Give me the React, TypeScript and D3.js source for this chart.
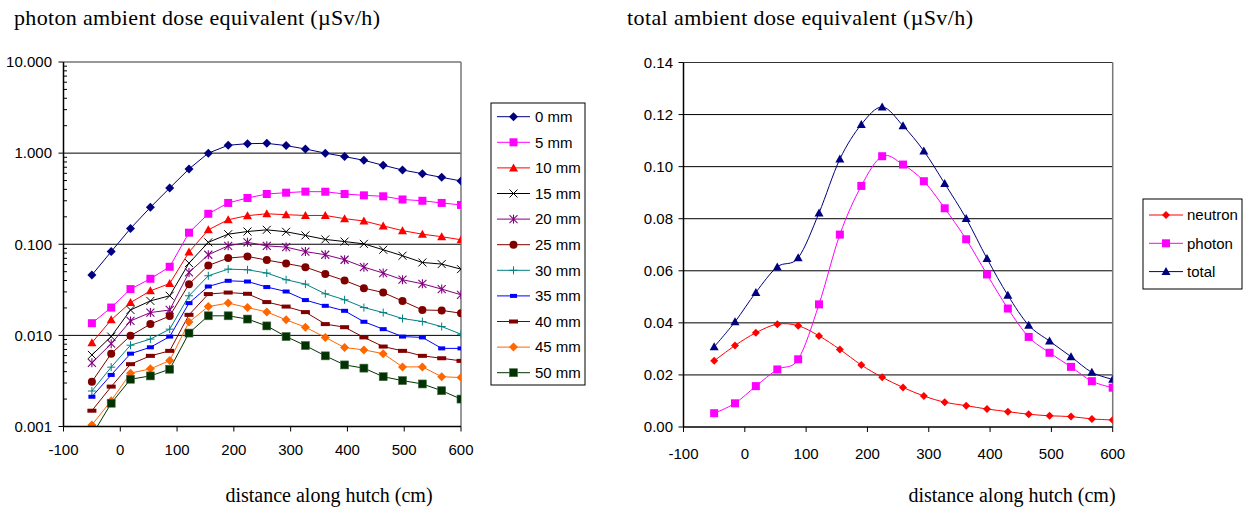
import React from "react";
import * as d3 from "d3";

const distances = [-50, -16, 18, 53, 87, 121, 155, 190, 224, 258, 292, 326, 361, 395, 429, 463, 497, 532, 566, 600];

const mm0 = [0.046, 0.083, 0.149, 0.254, 0.414, 0.67, 1.0, 1.22, 1.27, 1.28, 1.21, 1.11, 1.0, 0.916, 0.834, 0.735, 0.653, 0.595, 0.542, 0.495];
const mm5 = [0.0136, 0.0202, 0.0322, 0.0418, 0.0566, 0.134, 0.216, 0.284, 0.322, 0.356, 0.368, 0.378, 0.377, 0.356, 0.344, 0.336, 0.31, 0.3, 0.284, 0.27];
const mm10 = [0.0083, 0.0148, 0.0229, 0.0308, 0.0371, 0.082, 0.144, 0.186, 0.206, 0.216, 0.211, 0.207, 0.207, 0.191, 0.18, 0.159, 0.141, 0.129, 0.121, 0.112];
const mm15 = [0.0061, 0.0097, 0.019, 0.0239, 0.0272, 0.0621, 0.105, 0.129, 0.138, 0.144, 0.137, 0.125, 0.113, 0.107, 0.101, 0.087, 0.0748, 0.0631, 0.0606, 0.0533];
const mm20 = [0.005, 0.0081, 0.0144, 0.0178, 0.019, 0.049, 0.0767, 0.096, 0.105, 0.096, 0.093, 0.083, 0.0767, 0.0676, 0.0561, 0.0483, 0.0408, 0.0368, 0.0322, 0.0279];
const mm25 = [0.0031, 0.0063, 0.0099, 0.0133, 0.0163, 0.0365, 0.0585, 0.0705, 0.0735, 0.067, 0.0615, 0.0561, 0.0471, 0.04, 0.033, 0.0295, 0.0238, 0.019, 0.0188, 0.0175];
const mm30 = [0.00245, 0.00448, 0.0078, 0.0091, 0.0117, 0.0272, 0.0451, 0.0533, 0.0525, 0.0483, 0.0408, 0.0365, 0.0286, 0.0246, 0.0202, 0.0178, 0.0153, 0.0142, 0.0125, 0.0103];
const mm35 = [0.00212, 0.00368, 0.0063, 0.0074, 0.0097, 0.0226, 0.0344, 0.0397, 0.039, 0.0339, 0.0303, 0.0244, 0.0211, 0.0186, 0.0141, 0.0117, 0.0097, 0.0095, 0.0072, 0.0072];
const mm40 = [0.00149, 0.00274, 0.00483, 0.00596, 0.00676, 0.0168, 0.0284, 0.0295, 0.0286, 0.0232, 0.0207, 0.018, 0.0133, 0.0123, 0.0095, 0.00754, 0.00676, 0.00596, 0.00561, 0.00525];
const mm45 = [0.00104, 0.00192, 0.00385, 0.00429, 0.00529, 0.014, 0.0207, 0.0226, 0.0202, 0.0181, 0.0148, 0.0123, 0.0095, 0.00735, 0.00693, 0.0063, 0.00451, 0.00451, 0.00352, 0.00344];
const mm50 = [0.0008, 0.0018, 0.0033, 0.00359, 0.00425, 0.0106, 0.0164, 0.0164, 0.0151, 0.0127, 0.0097, 0.00773, 0.00596, 0.00474, 0.00437, 0.00352, 0.00319, 0.00293, 0.00247, 0.002];

const neutron = [0.0254, 0.0313, 0.0362, 0.0395, 0.0389, 0.035, 0.0298, 0.0238, 0.0191, 0.0152, 0.0119, 0.0095, 0.0082, 0.0069, 0.0059, 0.0049, 0.0043, 0.004, 0.0031, 0.0027];
const photon = [0.0053, 0.0091, 0.0157, 0.0221, 0.026, 0.0471, 0.0739, 0.0926, 0.104, 0.1008, 0.0944, 0.084, 0.0721, 0.0586, 0.0455, 0.0346, 0.0285, 0.0231, 0.0176, 0.0151];
const total = [0.0308, 0.0404, 0.0517, 0.0615, 0.065, 0.0822, 0.1029, 0.1162, 0.1229, 0.1157, 0.106, 0.0935, 0.0801, 0.0647, 0.0506, 0.0391, 0.033, 0.027, 0.021, 0.0183];

const xTicks = [-100, 0, 100, 200, 300, 400, 500, 600];
const leftYTicks = [0.001, 0.01, 0.1, 1, 10];
const leftYLabels = ["0.001", "0.010", "0.100", "1.000", "10.000"];
const rightYTicks = [0, 0.02, 0.04, 0.06, 0.08, 0.1, 0.12, 0.14];
const rightYLabels = ["0.00", "0.02", "0.04", "0.06", "0.08", "0.10", "0.12", "0.14"];

const leftSeries = [
  { name: "0 mm", values: mm0, color: "#000080", marker: "diamond" },
  { name: "5 mm", values: mm5, color: "#FF00FF", marker: "square" },
  { name: "10 mm", values: mm10, color: "#FF0000", marker: "triangle" },
  { name: "15 mm", values: mm15, color: "#000000", marker: "x" },
  { name: "20 mm", values: mm20, color: "#800080", marker: "asterisk" },
  { name: "25 mm", values: mm25, color: "#800000", marker: "circle" },
  { name: "30 mm", values: mm30, color: "#008080", marker: "plus" },
  { name: "35 mm", values: mm35, color: "#0000FF", marker: "smallrect" },
  { name: "40 mm", values: mm40, color: "#800000", marker: "dash" },
  { name: "45 mm", values: mm45, color: "#FF6600", marker: "diamond" },
  { name: "50 mm", values: mm50, color: "#003300", marker: "bigsquare" },
];

const rightSeries = [
  { name: "neutron", values: neutron, color: "#FF0000", marker: "diamondSmall" },
  { name: "photon", values: photon, color: "#FF00FF", marker: "square" },
  { name: "total", values: total, color: "#000080", marker: "triangle" },
];

const SANS = "Arial, 'Liberation Sans', sans-serif";
const SERIF = "'Times New Roman', 'Liberation Serif', serif";

function Marker({ type, color, x, y }: { type: string; color: string; x: number; y: number }) {
  switch (type) {
    case "diamond":
      return <polygon points={`${x},${y - 4.5} ${x + 4.5},${y} ${x},${y + 4.5} ${x - 4.5},${y}`} fill={color} />;
    case "diamondSmall":
      return <polygon points={`${x},${y - 4} ${x + 4},${y} ${x},${y + 4} ${x - 4},${y}`} fill={color} />;
    case "square":
      return <rect x={x - 4} y={y - 4} width={8} height={8} fill={color} />;
    case "bigsquare":
      return <rect x={x - 4} y={y - 4} width={8} height={8} fill={color} stroke="#4a6a4a" strokeWidth={0.6} />;
    case "triangle":
      return <polygon points={`${x},${y - 4.5} ${x + 4.5},${y + 3.5} ${x - 4.5},${y + 3.5}`} fill={color} />;
    case "x":
      return (
        <g stroke={color} strokeWidth={1}>
          <line x1={x - 4} y1={y - 4} x2={x + 4} y2={y + 4} />
          <line x1={x - 4} y1={y + 4} x2={x + 4} y2={y - 4} />
        </g>
      );
    case "asterisk":
      return (
        <g stroke={color} strokeWidth={1.1}>
          <line x1={x - 4} y1={y - 4} x2={x + 4} y2={y + 4} />
          <line x1={x - 4} y1={y + 4} x2={x + 4} y2={y - 4} />
          <line x1={x} y1={y - 4.5} x2={x} y2={y + 4.5} />
        </g>
      );
    case "circle":
      return <circle cx={x} cy={y} r={4} fill={color} />;
    case "plus":
      return (
        <g stroke={color} strokeWidth={1}>
          <line x1={x - 4} y1={y} x2={x + 4} y2={y} />
          <line x1={x} y1={y - 4} x2={x} y2={y + 4} />
        </g>
      );
    case "smallrect":
      return <rect x={x - 3.5} y={y - 2} width={7} height={4} fill={color} />;
    case "dash":
      return <rect x={x - 4.5} y={y - 2} width={9} height={4} fill={color} />;
    default:
      return null;
  }
}

export default function App() {
  const lx = d3.scaleLinear().domain([-100, 600]).range([63.5, 461]);
  const ly = d3.scaleLog().domain([0.001, 10]).range([426.5, 62]);
  const rx = d3.scaleLinear().domain([-100, 600]).range([683.5, 1112.7]);
  const ry = d3.scaleLinear().domain([0, 0.14]).range([427, 62.5]);

  const leftLine = d3
    .line<number>()
    .x((_, i) => lx(distances[i]))
    .y((d) => ly(d));
  const rightLine = d3
    .line<number>()
    .x((_, i) => rx(distances[i]))
    .y((d) => ry(d))
    .curve(d3.curveCatmullRom.alpha(0));

  const minorTicks: number[] = [];
  [0.001, 0.01, 0.1, 1].forEach((dec) => {
    for (let k = 2; k <= 9; k++) minorTicks.push(dec * k);
  });

  const [lx0, lx1] = lx.range();
  const [ly0, ly1] = ly.range();
  const [rx0, rx1] = rx.range();
  const [ry0, ry1] = ry.range();

  return (
    <svg width={1246} height={512} style={{ position: "absolute", left: 0, top: 0, background: "#fff" }}>
      <defs>
        <clipPath id="clipL">
          <rect x={lx0} y={ly1} width={lx1 - lx0} height={ly0 - ly1} />
        </clipPath>
        <clipPath id="clipR">
          <rect x={rx0} y={ry1} width={rx1 - rx0} height={ry0 - ry1} />
        </clipPath>
      </defs>
      <rect x={0} y={0} width={1246} height={512} fill="#fff" />

      <text x={14} y={25} fontFamily={SERIF} fontSize={22} textLength={366} lengthAdjust="spacing">
        photon ambient dose equivalent (µSv/h)
      </text>
      <text x={627} y={25} fontFamily={SERIF} fontSize={22} textLength={346} lengthAdjust="spacing">
        total ambient dose equivalent (µSv/h)
      </text>
      <text x={329} y={502} textAnchor="middle" fontFamily={SERIF} fontSize={20}>
        distance along hutch (cm)
      </text>
      <text x={1012} y={502} textAnchor="middle" fontFamily={SERIF} fontSize={20}>
        distance along hutch (cm)
      </text>

      {/* LEFT CHART */}
      <g>
        {[0.01, 0.1, 1].map((t) => (
          <line key={t} x1={lx0} x2={lx1} y1={ly(t)} y2={ly(t)} stroke="#000" strokeWidth={1} />
        ))}
        <line x1={lx0} x2={lx1} y1={ly1} y2={ly1} stroke="#333" strokeWidth={1.2} />
        <line x1={lx1} x2={lx1} y1={ly1} y2={ly0} stroke="#777" strokeWidth={1.5} />
        <g clipPath="url(#clipL)">
          {leftSeries.map((s) => (
            <path key={s.name} d={leftLine(s.values) || ""} fill="none" stroke={s.color} strokeWidth={1} />
          ))}
          {leftSeries.map((s) =>
            s.values.map((v, i) => (
              <Marker key={s.name + i} type={s.marker} color={s.color} x={lx(distances[i])} y={ly(v)} />
            ))
          )}
        </g>
        <line x1={lx0} x2={lx0} y1={ly1} y2={ly0} stroke="#000" strokeWidth={1.5} />
        <line x1={lx0} x2={lx1} y1={ly0} y2={ly0} stroke="#000" strokeWidth={1.5} />
        {leftYTicks.map((t, i) => (
          <g key={t}>
            <line x1={lx0 - 5} x2={lx0} y1={ly(t)} y2={ly(t)} stroke="#000" strokeWidth={1} />
            <text x={52} y={ly(t)} dy="0.35em" textAnchor="end" fontFamily={SANS} fontSize={15}>
              {leftYLabels[i]}
            </text>
          </g>
        ))}
        {minorTicks.map((t) => (
          <line key={t} x1={lx0} x2={lx0 + 3.5} y1={ly(t)} y2={ly(t)} stroke="#000" strokeWidth={1} />
        ))}
        {xTicks.map((t) => (
          <g key={t}>
            <line x1={lx(t)} x2={lx(t)} y1={ly0} y2={ly0 + 5} stroke="#000" strokeWidth={1} />
            <text x={lx(t)} y={455} textAnchor="middle" fontFamily={SANS} fontSize={15}>
              {t}
            </text>
          </g>
        ))}
      </g>

      {/* LEFT LEGEND */}
      <g>
        <rect x={491} y={103} width={94} height={282} fill="#fff" stroke="#000" strokeWidth={1} />
        {leftSeries.map((s, i) => {
          const yy = 116.7 + i * 25.6;
          return (
            <g key={s.name}>
              <line x1={497} x2={530} y1={yy} y2={yy} stroke={s.color} strokeWidth={1} />
              <Marker type={s.marker} color={s.color} x={513.5} y={yy} />
              <text x={535} y={yy} dy="0.35em" fontFamily={SANS} fontSize={15}>
                {s.name}
              </text>
            </g>
          );
        })}
      </g>

      {/* RIGHT CHART */}
      <g>
        {rightYTicks.slice(1, -1).map((t) => (
          <line key={t} x1={rx0} x2={rx1} y1={ry(t)} y2={ry(t)} stroke="#000" strokeWidth={1} />
        ))}
        <line x1={rx0} x2={rx1} y1={ry1} y2={ry1} stroke="#333" strokeWidth={1.2} />
        <line x1={rx1} x2={rx1} y1={ry1} y2={ry0} stroke="#777" strokeWidth={1.5} />
        <g clipPath="url(#clipR)">
          {rightSeries.map((s) => (
            <path key={s.name} d={rightLine(s.values) || ""} fill="none" stroke={s.color} strokeWidth={1} />
          ))}
          {rightSeries.map((s) =>
            s.values.map((v, i) => (
              <Marker key={s.name + i} type={s.marker} color={s.color} x={rx(distances[i])} y={ry(v)} />
            ))
          )}
        </g>
        <line x1={rx0} x2={rx0} y1={ry1} y2={ry0} stroke="#000" strokeWidth={1.5} />
        <line x1={rx0} x2={rx1} y1={ry0} y2={ry0} stroke="#000" strokeWidth={1.5} />
        {rightYTicks.map((t, i) => (
          <g key={t}>
            <line x1={rx0 - 5} x2={rx0} y1={ry(t)} y2={ry(t)} stroke="#000" strokeWidth={1} />
            <text x={673} y={ry(t)} dy="0.35em" textAnchor="end" fontFamily={SANS} fontSize={15}>
              {rightYLabels[i]}
            </text>
          </g>
        ))}
        {xTicks.map((t) => (
          <g key={t}>
            <line x1={rx(t)} x2={rx(t)} y1={ry0} y2={ry0 + 5} stroke="#000" strokeWidth={1} />
            <text x={rx(t)} y={459} textAnchor="middle" fontFamily={SANS} fontSize={15}>
              {t}
            </text>
          </g>
        ))}
      </g>

      {/* RIGHT LEGEND */}
      <g>
        <rect x={1143} y={199} width={99} height={90} fill="#fff" stroke="#000" strokeWidth={1} />
        {rightSeries.map((s, i) => {
          const yy = 215 + i * 28.3;
          return (
            <g key={s.name}>
              <line x1={1149} x2={1183} y1={yy} y2={yy} stroke={s.color} strokeWidth={1} />
              <Marker type={s.marker} color={s.color} x={1166} y={yy} />
              <text x={1187} y={yy} dy="0.35em" fontFamily={SANS} fontSize={15}>
                {s.name}
              </text>
            </g>
          );
        })}
      </g>
    </svg>
  );
}
